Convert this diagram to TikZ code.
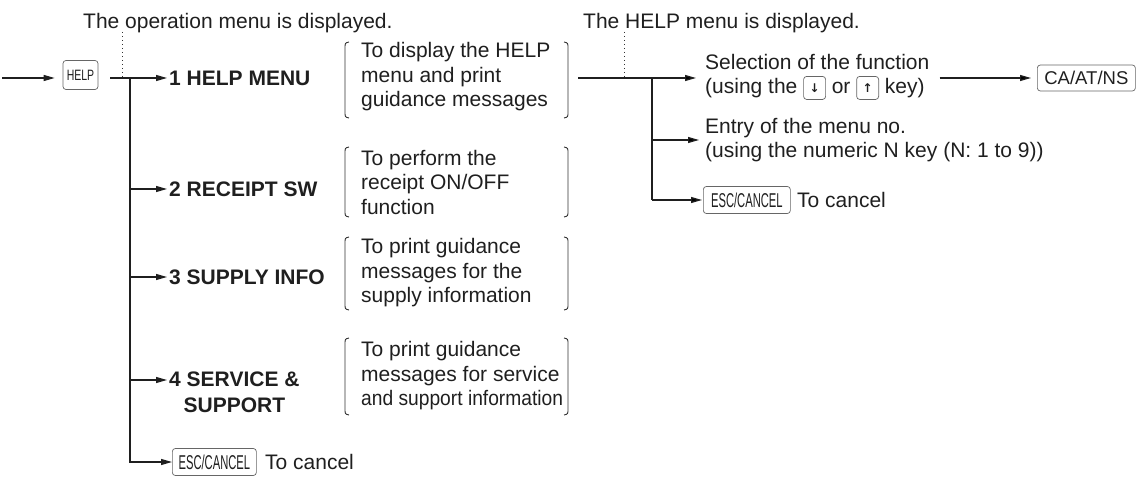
\documentclass[tikz,border=0pt]{standalone}
\usepackage{fontspec}
\setmainfont{Liberation Sans}
\newfontfamily\symfont{DejaVu Sans}
\usetikzlibrary{arrows.meta}
\newcommand\arkey[1]{\tikz[baseline=-6pt]\node[draw=black!60,line width=0.7pt,rounded corners=3pt,inner sep=0pt,minimum width=22pt,minimum height=23pt,font=\symfont\bfseries\fontsize{12}{12}\selectfont,text=black!88]{#1};}
\newcommand\narrow[2]{\scalebox{#1}[1]{#2}}
\begin{document}
\begin{tikzpicture}[x=1pt,y=-1pt,
  ln/.style={line width=1.2pt,draw=black!88},
  arr/.style={ln,-{Triangle[length=11pt,width=6pt]}},
  dots/.style={line width=1pt,draw=black!80,dash pattern=on 1.2pt off 2.8pt},
  key/.style={draw=black!60,line width=0.7pt,rounded corners=3pt,inner sep=0pt,text=black!88},
  lbl/.style={font=\fontsize{21}{24.5}\selectfont,inner sep=0pt,align=left,text=black!88},
  blbl/.style={font=\fontsize{21}{26}\selectfont\bfseries,inner sep=0pt,align=center,text=black!88},
  brk/.style={line width=0.9pt,draw=black!80}]
\useasboundingbox (0,0) rectangle (1138,478);
\newcommand\brackets[2]{%
  \draw[brk] (349,#1) .. controls (345,#1+1) .. (345,#1+6) -- (345,#2-6) .. controls (345,#2-1) .. (349,#2);
  \draw[brk] (564,#1) .. controls (568,#1+1) .. (568,#1+6) -- (568,#2-6) .. controls (568,#2-1) .. (564,#2);}
% top captions
\node[lbl,anchor=base west] (t1) at (83,29) {The operation menu is displayed.};
\node[lbl,anchor=base west] (t2) at (583,29) {The HELP menu is displayed.};
% left part
\coordinate (s) at (2,78);
\coordinate (j1) at (130,78);
\node[key,minimum width=35pt,minimum height=29pt] (help) at (80.5,75) {\fontsize{15}{15}\selectfont\narrow{0.7}{HELP}};
\draw[arr,shorten >=8pt] (s) -- (s -| help.west);
\draw[dots] (122,32) -- (122,78);
\node[blbl,anchor=west] (b1) at (169,78) {1 HELP MENU};
\node[blbl,anchor=west] (b2) at (169,189) {2 RECEIPT SW};
\node[blbl,anchor=west] (b3) at (169,277) {3 SUPPLY INFO};
\node[blbl,anchor=west] (b4) at (169,392) {4 SERVICE \&\\SUPPORT};
\node[key,anchor=west,minimum width=84pt,minimum height=27pt] (besc) at (172,462) {\fontsize{20}{20}\selectfont\narrow{0.56}{ESC/CANCEL}};
\node[lbl,anchor=west] (c1) at (265,462) {To cancel};
\draw[arr,shorten <=12pt,shorten >=2pt] (help.east |- j1) -- (b1.west);
\draw[arr,shorten >=2pt] (j1 |- b2.west) -- (b2.west);
\draw[arr,shorten >=2pt] (j1 |- b3.west) -- (b3.west);
\draw[arr,shorten >=2pt] (j1 |- 0,380) -- ([yshift=12pt]b4.west);
\draw[arr] (j1) |- (besc.west);
% descriptions
\node[lbl,anchor=west] (d1) at (361,77) {To display the HELP\\menu and print\\guidance messages};
\node[lbl,anchor=west] (d2) at (361,182) {To perform the\\receipt ON/OFF\\function};
\node[lbl,anchor=west] (d3) at (361,273) {To print guidance\\messages for the\\supply information};
\node[lbl,anchor=west] (d4) at (361,376) {To print guidance\\messages for service\\\narrow{0.915}{and support information}};
\brackets{42}{118}
\brackets{147}{217}
\brackets{237}{310}
\brackets{338}{415}
% right part
\coordinate (r1) at (578,78);
\coordinate (j2) at (652,78);
\draw[dots] (624,32) -- (624,78);
\node[lbl,anchor=west] (sel) at (705,77) {Selection of the function\\(using the \arkey{↓} or \arkey{↑} key)};
\node[lbl,anchor=west] (ent) at (705,140) {Entry of the menu no.\\(using the numeric N key (N: 1 to 9))};
\node[key,anchor=west,minimum width=87pt,minimum height=27pt] (esc2) at (703,200) {\fontsize{20}{20}\selectfont\narrow{0.56}{ESC/CANCEL}};
\node[lbl,anchor=west] (c2) at (797,200) {To cancel};
\node[key,anchor=west,minimum width=98pt,minimum height=26pt,font=\fontsize{18.5}{18.5}\selectfont] (ca) at (1037,78) {CA/AT/NS};
\draw[arr,shorten >=9pt] (r1) -- (r1 -| sel.west);
\draw[ln] (j2) -- (j2 |- esc2.west);
\draw[arr,shorten >=6pt] (j2 |- ent.west) -- (ent.west);
\draw[arr,shorten >=1pt] (j2 |- esc2.west) -- (esc2.west);
\draw[arr,shorten <=10pt,shorten >=6pt] (sel.east |- r1) -- (ca.west);
\end{tikzpicture}
\end{document}
